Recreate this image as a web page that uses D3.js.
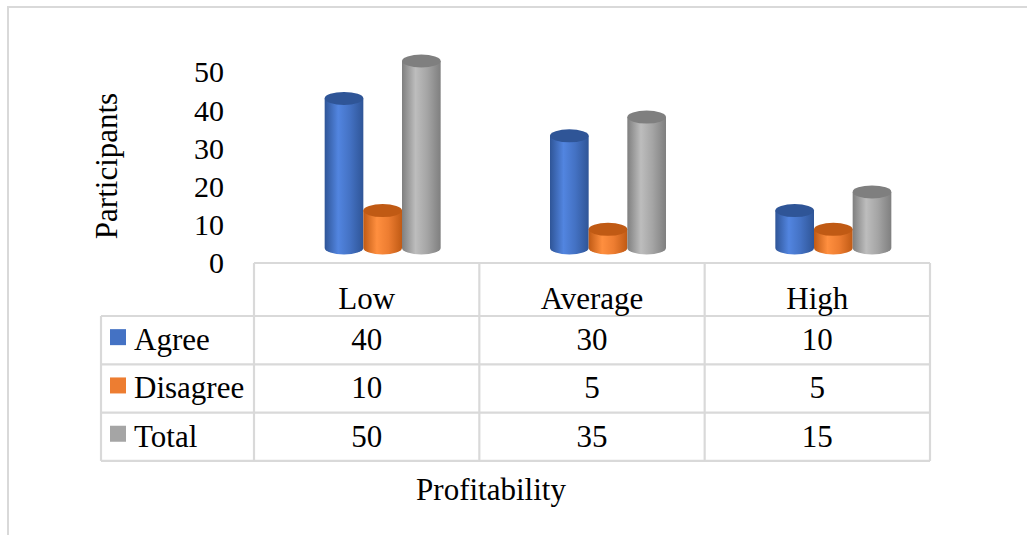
<!DOCTYPE html>
<html>
<head>
<meta charset="utf-8">
<script src="https://cdn.jsdelivr.net/npm/d3@7"></script>
<style>
  html, body { margin: 0; padding: 0; background: #fff; }
  svg { display: block; }
  text { font-family: "Liberation Serif", "Times New Roman", serif; fill: #000; }
</style>
</head>
<body>
<svg id="chart" width="1027" height="535"></svg>
<script>
const categories = ["Low", "Average", "High"];
const seriesNames = ["Agree", "Disagree", "Total"];
const agree = [40, 30, 10];
const disagree = [10, 5, 5];
const total = [50, 35, 15];
const yTicks = [0, 10, 20, 30, 40, 50];
const seriesColors = ["#4472C4", "#ED7D31", "#A5A5A5"];
const seriesDark = ["#2F5597", "#C05A14", "#7F7F7F"];
const seriesLight = ["#5285E0", "#FF8F3F", "#BDBDBD"];

const values = [agree, disagree, total];

const svg = d3.select("#chart");
const W = 1027, H = 535;
const fontSize = 31;
const gridColor = "#d9d9d9";

// outer border
svg.append("rect")
  .attr("x", 8).attr("y", 7)
  .attr("width", W + 20).attr("height", H + 20)
  .attr("fill", "none").attr("stroke", gridColor).attr("stroke-width", 2);

// scales
const x = d3.scaleBand().domain(categories).range([254, 930]);
const xs = d3.scaleBand().domain(seriesNames).range([0, 116]);
const y = d3.scaleLinear().domain([0, 50]).range([263, 72]);
const yBar = d3.scaleLinear().domain([0, 50]).range([248, 61]);
const depthShift = 16;

// y axis
const yAxis = d3.axisLeft(y).tickValues(yTicks).tickSize(0).tickPadding(0);
const gy = svg.append("g").attr("transform", "translate(224,0)").call(yAxis);
gy.select(".domain").remove();
gy.selectAll("text")
  .attr("font-size", 30)
  .attr("font-family", "Liberation Serif, Times New Roman, serif")
  .attr("fill", "#000")
  .attr("dy", "0.33em");

// axis title
svg.append("text")
  .attr("transform", "translate(117,166) rotate(-90)")
  .attr("text-anchor", "middle")
  .attr("font-size", fontSize)
  .text("Participants");

// gradients
const defs = svg.append("defs");
seriesNames.forEach((s, i) => {
  const g = defs.append("linearGradient")
    .attr("id", "grad" + i)
    .attr("x1", "0%").attr("x2", "100%").attr("y1", "0%").attr("y2", "0%");
  g.append("stop").attr("offset", "0%").attr("stop-color", seriesDark[i]);
  g.append("stop").attr("offset", "35%").attr("stop-color", seriesLight[i]);
  g.append("stop").attr("offset", "65%").attr("stop-color", seriesColors[i]);
  g.append("stop").attr("offset", "100%").attr("stop-color", seriesDark[i]);
});

// cylinders
const ry = 6.5;
categories.forEach((c, ci) => {
  const groupLeft = x(c) + x.bandwidth() / 2 + depthShift - (xs.range()[1] / 2);
  seriesNames.forEach((s, si) => {
    const v = values[si][ci];
    const x0 = groupLeft + xs(s);
    const w = xs.bandwidth();
    const rx = w / 2;
    const yTop = yBar(v);
    const yBot = yBar(0);
    const g = svg.append("g");
    g.append("path")
      .attr("d", `M${x0},${yTop} L${x0},${yBot} A${rx},${ry} 0 0 0 ${x0 + w},${yBot} L${x0 + w},${yTop} Z`)
      .attr("fill", `url(#grad${si})`);
    g.append("ellipse")
      .attr("cx", x0 + rx).attr("cy", yTop)
      .attr("rx", rx).attr("ry", ry)
      .attr("fill", seriesDark[si]);
  });
});

// data table
const tableLeft = 101, rowTop = 316, rowH = 48.3, headerTop = 263;
const tableBottom = rowTop + rowH * 3;
const lines = svg.append("g").attr("stroke", gridColor).attr("stroke-width", 2.2);
lines.append("line").attr("x1", x.range()[0]).attr("x2", x.range()[1]).attr("y1", headerTop).attr("y2", headerTop);
[0, 1, 2, 3].forEach(r => {
  lines.append("line").attr("x1", tableLeft).attr("x2", x.range()[1])
    .attr("y1", rowTop + r * rowH).attr("y2", rowTop + r * rowH);
});
lines.append("line").attr("x1", tableLeft).attr("x2", tableLeft).attr("y1", rowTop).attr("y2", tableBottom);
categories.forEach(c => {
  lines.append("line").attr("x1", x(c)).attr("x2", x(c)).attr("y1", headerTop).attr("y2", tableBottom);
});
lines.append("line").attr("x1", x.range()[1]).attr("x2", x.range()[1]).attr("y1", headerTop).attr("y2", tableBottom);

// header labels
categories.forEach(c => {
  svg.append("text")
    .attr("x", x(c) + x.bandwidth() / 2)
    .attr("y", 309)
    .attr("text-anchor", "middle")
    .attr("font-size", fontSize)
    .text(c);
});

// rows
seriesNames.forEach((s, si) => {
  const cy = rowTop + rowH * si + rowH / 2;
  svg.append("rect")
    .attr("x", 110).attr("y", cy - 11)
    .attr("width", 16).attr("height", 16)
    .attr("fill", seriesColors[si]);
  svg.append("text")
    .attr("x", 134).attr("y", cy + 10)
    .attr("font-size", fontSize)
    .text(s);
  categories.forEach((c, ci) => {
    svg.append("text")
      .attr("x", x(c) + x.bandwidth() / 2)
      .attr("y", cy + 10)
      .attr("text-anchor", "middle")
      .attr("font-size", fontSize)
      .text(values[si][ci]);
  });
});

// x axis title
svg.append("text")
  .attr("x", 491).attr("y", 500)
  .attr("text-anchor", "middle")
  .attr("font-size", fontSize)
  .text("Profitability");
</script>
</body>
</html>
